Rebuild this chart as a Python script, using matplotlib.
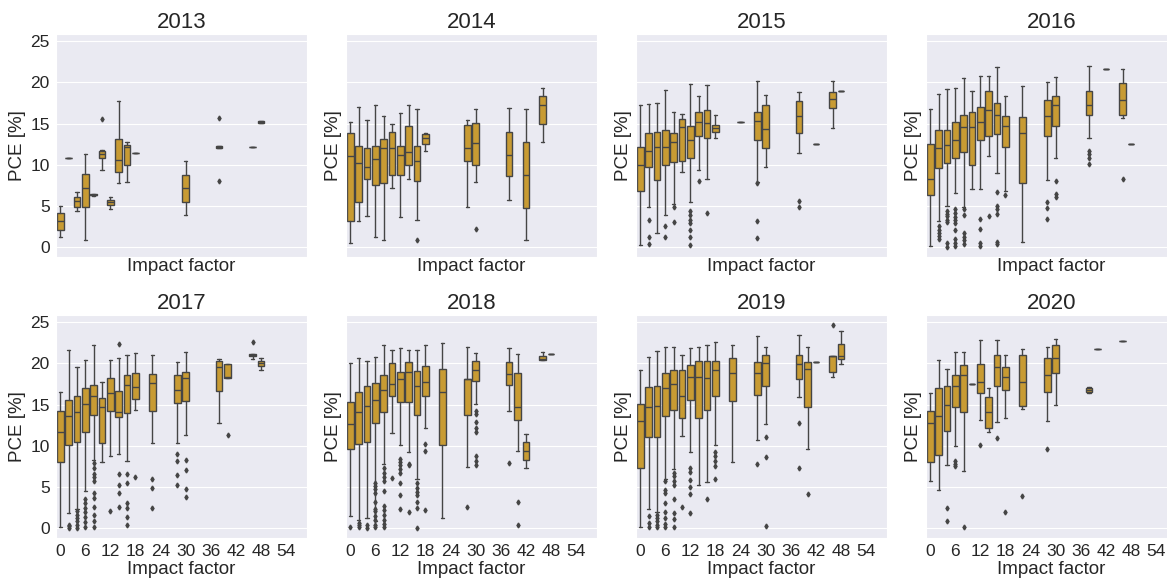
import matplotlib
matplotlib.use("Agg")
import matplotlib.pyplot as plt
import seaborn as sns

sns.set_style("darkgrid")
plt.rcParams["font.family"] = ["Liberation Sans", "DejaVu Sans"]

years = [2013, 2014, 2015, 2016, 2017, 2018, 2019, 2020]
if_ticks = list(range(0, 55, 6))

# rows: (impact factor, whisker low, q1, median, q3, whisker high)
box_2013 = [
    (0, 1.2, 2.1, 3.1, 4.1, 5.0),
    (2, 10.8, 10.8, 10.8, 10.8, 10.8),
    (4, 4.3, 4.85, 5.55, 6.05, 6.65),
    (6, 0.8, 4.85, 7.2, 8.9, 11.25),
    (8, 6.2, 6.25, 6.3, 6.4, 6.45),
    (10, 9.4, 10.8, 11.3, 11.7, 11.8),
    (12, 4.6, 5.1, 5.4, 5.7, 6.05),
    (14, 7.8, 9.15, 10.6, 13.1, 17.8),
    (16, 7.9, 10.0, 12.2, 12.4, 12.7),
    (18, 11.4, 11.4, 11.4, 11.4, 11.4),
    (30, 3.9, 5.5, 7.2, 8.8, 10.4),
    (38, 12.0, 12.0, 12.1, 12.3, 12.3),
    (46, 12.2, 12.2, 12.2, 12.2, 12.2),
    (48, 15.1, 15.1, 15.2, 15.3, 15.3),
]
out_2013 = {10: [15.6], 38: [15.7, 8.0]}

box_2014 = [
    (0, 0.45, 3.1, 11.05, 13.9, 15.2),
    (2, 3.2, 5.4, 10.2, 12.3, 17.05),
    (4, 3.7, 8.3, 9.75, 12.0, 15.4),
    (6, 1.2, 7.5, 10.7, 12.25, 17.2),
    (8, 0.8, 7.8, 12.0, 13.1, 15.9),
    (10, 7.1, 8.8, 12.0, 13.95, 15.0),
    (12, 3.6, 8.75, 11.2, 12.3, 16.3),
    (14, 8.3, 9.9, 11.5, 14.7, 17.3),
    (16, 3.3, 8.0, 10.4, 12.3, 16.8),
    (18, 11.7, 12.5, 13.2, 13.7, 13.8),
    (28, 4.8, 10.5, 12.0, 14.8, 15.4),
    (30, 7.9, 10.0, 12.6, 15.1, 16.8),
    (38, 5.7, 8.6, 11.2, 13.95, 16.9),
    (42, 0.8, 4.7, 8.75, 12.7, 16.8),
    (46, 12.8, 15.0, 17.3, 18.3, 19.3),
]
out_2014 = {16: [0.8], 30: [2.2]}

box_2015 = [
    (0, 0.2, 6.85, 10.0, 12.2, 17.3),
    (2, 4.9, 9.75, 11.6, 13.8, 17.4),
    (4, 1.7, 8.15, 12.1, 13.95, 17.5),
    (6, 3.9, 9.9, 12.1, 14.2, 19.1),
    (8, 5.2, 10.3, 12.7, 13.8, 16.4),
    (10, 9.1, 10.5, 14.6, 15.6, 16.2),
    (12, 5.5, 10.8, 13.0, 14.75, 19.8),
    (14, 9.4, 13.5, 15.2, 16.4, 18.4),
    (16, 8.3, 13.2, 15.1, 16.6, 19.7),
    (18, 13.3, 14.0, 14.4, 14.8, 16.0),
    (24, 15.2, 15.2, 15.2, 15.2, 15.2),
    (28, 7.9, 13.0, 15.3, 16.45, 20.2),
    (30, 9.7, 12.0, 14.3, 17.2, 18.5),
    (38, 11.45, 13.9, 15.9, 17.8, 18.9),
    (42, 12.5, 12.5, 12.5, 12.5, 12.5),
    (46, 14.5, 16.9, 18.0, 18.9, 20.2),
    (48, 19.0, 19.0, 19.0, 19.0, 19.0),
]
out_2015 = {
    2: [3.3, 1.2, 0.35],
    6: [2.5, 1.2],
    8: [4.9, 3.0],
    12: [4.3, 3.9, 3.3, 2.9, 2.1, 1.2, 0.2],
    14: [8.0],
    16: [4.1],
    28: [7.75, 3.1, 1.1],
    38: [5.6, 4.8],
}

box_2016 = [
    (0, 0.1, 6.3, 8.3, 12.5, 16.8),
    (2, 3.1, 9.6, 12.0, 14.2, 18.6),
    (4, 5.0, 10.2, 12.4, 14.2, 19.2),
    (6, 6.5, 10.85, 13.0, 15.2, 19.3),
    (8, 4.9, 11.5, 14.6, 16.1, 20.6),
    (10, 7.0, 10.0, 14.6, 16.4, 19.0),
    (12, 7.0, 13.0, 15.2, 17.0, 20.8),
    (14, 11.05, 13.5, 16.6, 18.95, 20.8),
    (16, 9.0, 13.7, 16.0, 17.5, 21.85),
    (18, 6.85, 12.1, 14.75, 15.9, 18.4),
    (22, 0.55, 7.75, 13.8, 15.8, 19.55),
    (28, 8.15, 13.5, 15.9, 17.9, 20.1),
    (30, 10.85, 14.7, 17.3, 18.4, 20.7),
    (38, 13.2, 16.1, 17.3, 18.95, 22.0),
    (42, 21.7, 21.7, 21.7, 21.7, 21.7),
    (46, 15.7, 16.0, 17.9, 19.9, 21.6),
    (48, 12.5, 12.5, 12.5, 12.5, 12.5),
]
out_2016 = {
    2: [2.5, 2.1, 1.7, 1.3, 0.9],
    4: [4.4, 4.0, 3.7, 3.3, 3.0, 0.5, 0.0],
    6: [4.6, 4.1, 3.6, 3.3, 2.9, 2.1, 1.0, 0.5, 0.1],
    8: [4.6, 3.9, 1.7, 1.2, 0.8, 0.3],
    12: [3.4, 2.2, 0.5, 0.1],
    14: [3.7],
    16: [6.65, 4.95, 4.6, 3.95, 0.6, 0.4],
    18: [6.25],
    28: [5.5, 4.7, 3.4],
    30: [8.0, 6.4, 6.05],
    38: [11.65, 11.3, 10.85, 10.1],
    46: [8.3],
}

box_2017 = [
    (0, 0.1, 8.05, 11.6, 14.2, 16.5),
    (2, 1.8, 10.05, 13.6, 15.6, 21.6),
    (4, 2.35, 10.5, 14.05, 16.0, 19.6),
    (6, 4.45, 11.7, 15.1, 17.0, 20.4),
    (8, 8.3, 13.7, 16.1, 17.4, 22.2),
    (10, 8.05, 10.3, 14.7, 15.8, 17.7),
    (12, 8.7, 14.25, 16.35, 18.2, 20.4),
    (14, 9.0, 13.5, 14.1, 16.6, 20.7),
    (16, 8.1, 14.0, 17.4, 18.55, 21.05),
    (18, 14.3, 15.7, 17.1, 18.8, 21.3),
    (22, 10.3, 14.2, 17.6, 18.7, 21.05),
    (28, 10.3, 15.2, 16.75, 18.6, 20.2),
    (30, 11.3, 15.4, 18.2, 19.0, 21.45),
    (38, 12.7, 16.6, 19.55, 20.3, 20.6),
    (40, 18.2, 18.2, 18.4, 19.9, 19.95),
    (46, 20.6, 20.9, 21.05, 21.1, 21.1),
    (48, 19.2, 19.7, 20.0, 20.3, 20.65),
]
out_2017 = {
    2: [0.4, 0.2, 0.0],
    4: [2.0, 1.6, 1.2, 0.8, 0.4, 0.0],
    6: [3.5, 3.0, 2.4, 1.9, 1.3, 0.7, 0.1],
    8: [7.9, 7.3, 6.6, 6.15, 5.7, 4.25, 3.6, 2.55, 1.6, 0.8, 0.1],
    12: [2.1],
    14: [22.4, 6.6, 5.25, 4.2, 2.55],
    16: [6.6, 5.45, 3.0, 2.4, 1.35, 0.4],
    18: [6.15],
    22: [5.9, 4.9, 2.4],
    28: [9.0, 8.1, 6.4, 5.2],
    30: [8.25, 7.0, 4.7, 3.8],
    40: [11.3],
    46: [22.6],
}

box_2018 = [
    (0, 1.4, 9.6, 12.6, 15.3, 20.0),
    (2, 0.9, 10.2, 14.1, 16.5, 20.7),
    (4, 1.2, 10.5, 14.8, 17.2, 20.3),
    (6, 0.8, 12.8, 15.6, 17.6, 20.8),
    (8, 7.8, 14.1, 16.75, 18.55, 22.3),
    (10, 11.5, 16.0, 17.5, 20.05, 21.6),
    (12, 10.05, 15.3, 18.1, 19.0, 21.9),
    (14, 9.2, 15.3, 19.0, 20.2, 21.65),
    (16, 6.0, 13.7, 17.2, 19.1, 21.65),
    (18, 12.1, 16.1, 17.7, 19.75, 22.2),
    (22, 1.2, 10.1, 16.5, 19.35, 22.5),
    (28, 7.4, 13.7, 18.1, 18.1, 22.0),
    (30, 15.1, 17.9, 19.2, 20.25, 21.3),
    (38, 14.25, 17.4, 18.7, 20.2, 21.85),
    (40, 9.3, 13.1, 14.65, 18.8, 21.1),
    (42, 7.25, 8.3, 9.4, 10.4, 11.45),
    (46, 20.45, 20.45, 20.5, 20.9, 21.45),
    (48, 21.2, 21.2, 21.2, 21.2, 21.2),
]
out_2018 = {
    0: [0.15],
    2: [0.6, 0.3, 0.1],
    4: [0.3, 0.0],
    6: [5.5, 5.1, 4.7, 4.25, 3.2, 2.35, 2.0, 1.4, 0.9, 0.4, 0.1],
    8: [7.3, 6.7, 6.15, 5.7, 4.5, 2.6, 2.2, 1.6, 1.0, 0.5, 0.15],
    10: [6.1],
    12: [8.4, 8.0, 7.7, 7.2, 6.7, 5.45, 4.05, 2.35],
    14: [7.8, 7.6, 1.9],
    16: [5.45, 4.9, 4.4, 4.0, 3.2, 2.4, 0.0],
    18: [10.2, 9.4, 2.15],
    28: [2.55],
    30: [14.25, 13.8, 12.9, 12.15, 11.65, 8.8, 8.1, 7.7],
    38: [7.9],
    40: [3.15, 0.4],
}

box_2019 = [
    (0, 0.1, 7.3, 12.95, 15.05, 19.2),
    (2, 2.35, 11.1, 14.65, 17.1, 20.8),
    (4, 1.9, 11.0, 14.85, 17.3, 21.5),
    (6, 5.9, 13.6, 17.0, 18.8, 22.05),
    (8, 7.1, 14.3, 17.5, 19.25, 22.0),
    (10, 11.2, 13.35, 16.1, 19.25, 21.05),
    (12, 9.2, 15.5, 18.4, 19.85, 21.85),
    (14, 5.25, 13.35, 18.3, 20.35, 22.05),
    (16, 5.55, 14.3, 18.2, 20.25, 22.25),
    (18, 10.1, 16.0, 19.15, 20.25, 22.65),
    (22, 8.0, 15.45, 18.9, 20.65, 22.2),
    (28, 10.65, 16.2, 18.9, 20.15, 23.3),
    (30, 12.6, 17.2, 20.1, 21.05, 21.95),
    (38, 15.9, 18.1, 19.95, 21.05, 23.5),
    (40, 9.6, 14.7, 19.3, 20.15, 21.95),
    (42, 20.15, 20.15, 20.15, 20.15, 20.15),
    (46, 18.4, 19.0, 20.95, 20.95, 20.95),
    (48, 19.95, 20.5, 20.95, 22.4, 23.9),
]
out_2019 = {
    2: [1.4, 0.6, 0.1],
    4: [1.6, 1.2, 0.8, 0.4, 0.1],
    6: [5.7, 4.65, 4.25, 3.0, 1.95, 1.2, 0.5, 0.15],
    8: [6.7, 6.3, 5.75, 5.25, 3.55, 1.8, 1.1, 0.1],
    10: [2.5],
    12: [7.3, 6.8, 5.85, 5.0, 4.1, 1.8],
    16: [3.55],
    18: [9.2, 8.8, 8.1, 7.5, 5.95],
    28: [7.8],
    30: [11.0, 8.6, 0.2],
    38: [12.7, 7.3],
    40: [4.1],
    46: [24.7],
}

box_2020 = [
    (0, 5.65, 8.0, 12.7, 14.2, 16.35),
    (2, 4.6, 8.9, 13.55, 17.0, 20.4),
    (4, 7.6, 11.75, 15.0, 17.3, 19.35),
    (6, 9.9, 14.65, 17.2, 18.6, 21.45),
    (8, 6.95, 14.1, 18.6, 19.85, 21.45),
    (10, 17.5, 17.5, 17.5, 17.5, 17.5),
    (12, 13.1, 16.35, 17.8, 19.9, 22.9),
    (14, 11.6, 12.2, 14.05, 15.9, 17.0),
    (16, 12.9, 17.3, 19.55, 21.0, 22.9),
    (18, 13.35, 16.75, 18.3, 19.6, 21.0),
    (22, 14.4, 14.8, 17.8, 21.05, 21.8),
    (28, 12.95, 16.55, 18.55, 20.65, 22.05),
    (30, 15.0, 18.85, 20.7, 22.25, 23.0),
    (38, 16.35, 16.5, 16.8, 17.0, 17.1),
    (40, 21.75, 21.75, 21.75, 21.75, 21.75),
    (46, 22.7, 22.7, 22.7, 22.7, 22.7),
]
out_2020 = {
    4: [2.4, 0.8],
    6: [8.1, 7.8, 7.5],
    8: [0.1],
    12: [10.1],
    16: [10.9],
    18: [1.9],
    22: [3.85],
    28: [9.6],
}

panels = [
    (box_2013, out_2013), (box_2014, out_2014), (box_2015, out_2015), (box_2016, out_2016),
    (box_2017, out_2017), (box_2018, out_2018), (box_2019, out_2019), (box_2020, out_2020),
]

box_color = "#c89b33"
line_color = "#454545"


def to_stats(rows, outliers):
    stats = []
    for pos, lo, q1, med, q3, hi in rows:
        stats.append(dict(whislo=lo, q1=q1, med=med, q3=q3, whishi=hi,
                          fliers=outliers.get(pos, [])))
    return stats


fig, axes = plt.subplots(2, 4, figsize=(11.67, 5.78), dpi=100, sharex=True, sharey=True)

# panel geometry in figure pixels
px_w, px_h = 1167, 578
lefts = [56, 346, 636, 926]
tops = [34, 315]
width, height = 251, 223

for i, (ax, year, (rows, outliers)) in enumerate(zip(axes.flat, years, panels)):
    r, c = divmod(i, 4)
    ax.set_position([lefts[c] / px_w, 1 - (tops[r] + height) / px_h,
                     width / px_w, height / px_h])

    positions = [row[0] for row in rows]
    ax.bxp(to_stats(rows, outliers), positions=positions, widths=1.6,
           patch_artist=True, showfliers=True,
           boxprops=dict(facecolor=box_color, edgecolor=line_color, linewidth=1.0),
           medianprops=dict(color=line_color, linewidth=1.0),
           whiskerprops=dict(color=line_color, linewidth=1.0),
           capprops=dict(color=line_color, linewidth=1.0),
           flierprops=dict(marker="d", markersize=2.5, markerfacecolor=line_color,
                           markeredgecolor=line_color, linestyle="none"))

    ax.set_title(str(year), fontsize=16, color="#262626", pad=4)
    ax.set_xlabel("Impact factor", fontsize=13.5, color="#262626", labelpad=1)
    ax.set_ylabel("PCE [%]", fontsize=13.5, color="#262626", labelpad=3)
    ax.grid(axis="x", visible=False)
    ax.tick_params(labelsize=12.5, colors="#262626", pad=1)

axes[0, 0].set_xlim(-1, 59)
axes[0, 0].set_xticks(if_ticks)
axes[0, 0].set_xticklabels([str(t) for t in if_ticks])
axes[0, 0].set_ylim(-1.24, 25.9)
axes[0, 0].set_yticks([0, 5, 10, 15, 20, 25])

fig.savefig("out.png", dpi=100)
